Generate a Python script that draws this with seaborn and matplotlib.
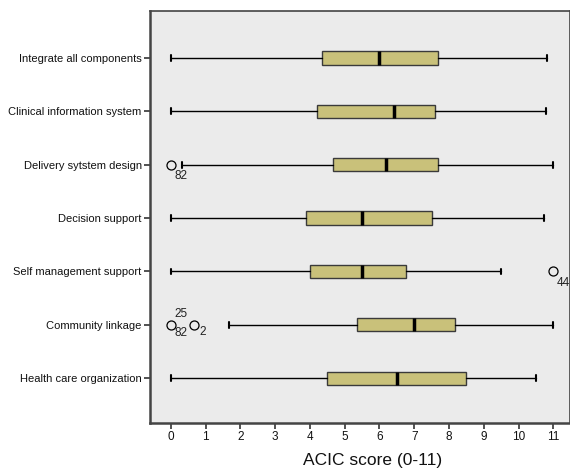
import matplotlib
matplotlib.use('Agg')
import matplotlib.pyplot as plt
import seaborn as sns

# ---- data ----
components = ['Integrate all components', 'Clinical information system',
              'Delivery sytstem design', 'Decision support',
              'Self management support', 'Community linkage',
              'Health care organization']
whisk_lo = [0.0, 0.0, 0.33, 0.0, 0.0, 1.67, 0.0]
q1 = [4.34, 4.19, 4.67, 3.88, 4.0, 5.34, 4.5]
median = [6.0, 6.41, 6.18, 5.5, 5.5, 7.0, 6.5]
q3 = [7.67, 7.6, 7.67, 7.5, 6.75, 8.16, 8.5]
whisk_hi = [10.81, 10.79, 11.0, 10.73, 9.5, 11.0, 10.5]
outliers = [[], [], [0.0], [], [11.0], [0.0, 0.67], []]
# case labels for the outliers: (row, value, text, dx, dy) offsets in points
outlier_ids = [
    (2, 0.0, '82', 7, -8),
    (4, 11.0, '44', 7, -8),
    (5, 0.0, '25', 7, 8),
    (5, 0.0, '82', 7, -6),
    (5, 0.67, '2', 6, -5),
]

sns.set_theme(style='white')
plt.rcParams['font.family'] = ['Liberation Sans', 'DejaVu Sans']

fig = plt.figure(figsize=(5.7, 4.72), dpi=100)
ax = fig.add_axes([150 / 570, 49 / 472, 420 / 570, 412 / 472])
ax.set_facecolor('#EBEBEB')

stats = []
for i, name in enumerate(components):
    stats.append({'label': name, 'whislo': whisk_lo[i], 'q1': q1[i],
                  'med': median[i], 'q3': q3[i], 'whishi': whisk_hi[i],
                  'fliers': outliers[i]})

ax.bxp(stats, positions=range(len(components)), vert=False, widths=0.25,
       capwidths=0.11, patch_artist=True,
       boxprops=dict(facecolor='#C9C17A', edgecolor='#3a3a3a', linewidth=1.0),
       medianprops=dict(color='black', linewidth=2.5),
       whiskerprops=dict(color='black', linewidth=1.0),
       capprops=dict(color='black', linewidth=1.5),
       flierprops=dict(marker='o', markersize=6.5, markerfacecolor='none',
                       markeredgecolor='black', markeredgewidth=0.9))

for row, val, txt, dx, dy in outlier_ids:
    ax.annotate(txt, (val, row), xytext=(dx, dy), textcoords='offset points',
                fontsize=8.5, ha='center', va='center', color='#222222')

ax.set_xlim(-0.6, 11.48)
ax.set_ylim(6.84, -0.88)
ax.set_xticks(range(12))
ax.set_yticks(range(len(components)))
ax.set_yticklabels(components)
ax.tick_params(axis='both', which='both', length=4, width=1.2, color='#333333',
               labelsize=8.5, labelcolor='#111111', pad=2,
               bottom=True, left=True)
ax.tick_params(axis='y', labelsize=8)
ax.set_xlabel('ACIC score (0-11)', fontsize=12.5, color='#111111')
ax.xaxis.set_label_coords(0.531, -0.074)

for side, sp in ax.spines.items():
    sp.set_color('#444444')
    sp.set_linewidth(1.8 if side in ('left', 'bottom') else 1.2)

fig.savefig('out.png', dpi=100)
